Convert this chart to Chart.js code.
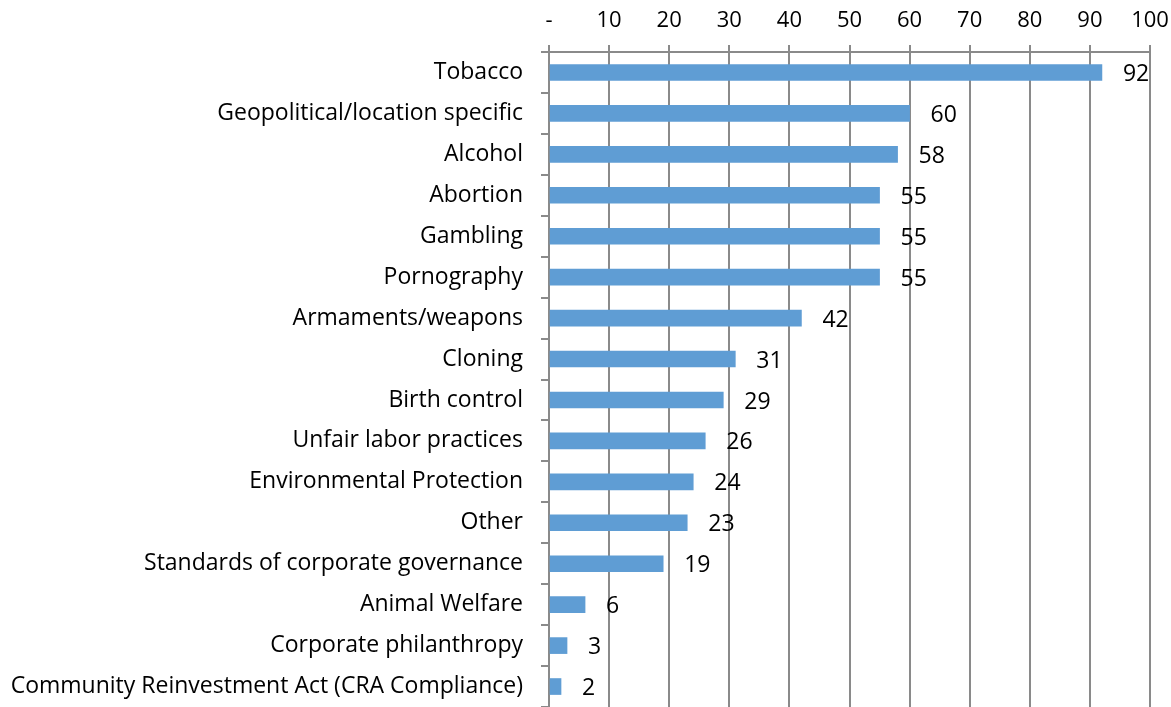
<!DOCTYPE html>
<html>
<head>
<meta charset="utf-8">
<script src="https://cdn.jsdelivr.net/npm/chart.js@4"></script>
<style>
  html, body { margin: 0; padding: 0; background: #fff; }
  #wrap { width: 1171px; height: 707px; position: relative; }
</style>
</head>
<body>
<div id="wrap"><canvas id="barChart"></canvas></div>
<script>
/* --- DATA --- */
const CATEGORIES = [
  'Tobacco',
  'Geopolitical/location specific',
  'Alcohol',
  'Abortion',
  'Gambling',
  'Pornography',
  'Armaments/weapons',
  'Cloning',
  'Birth control',
  'Unfair labor practices',
  'Environmental Protection',
  'Other',
  'Standards of corporate governance',
  'Animal Welfare',
  'Corporate philanthropy',
  'Community Reinvestment Act (CRA Compliance)'
];
const VALUES = [92, 60, 58, 55, 55, 55, 42, 31, 29, 26, 24, 23, 19, 6, 3, 2];
const X_MIN = 0;
const X_MAX = 100;
const X_STEP = 10;
const ZERO_LABEL = '-';

/* --- STYLE --- */
const FONT = '"Open Sans", sans-serif';
const GRID_COLOR = '#8a8a8a';
const BAR_COLOR = '#5f9dd4';

// value labels to the right of each bar
const valueLabels = {
  id: 'valueLabels',
  afterDatasetsDraw(chart) {
    const ctx = chart.ctx;
    const meta = chart.getDatasetMeta(0);
    ctx.save();
    ctx.font = '23px ' + FONT;
    ctx.fillStyle = '#000';
    ctx.textAlign = 'left';
    ctx.textBaseline = 'middle';
    meta.data.forEach((bar, i) => {
      ctx.fillText(String(VALUES[i]), bar.x + 21, bar.y + 2);
    });
    ctx.restore();
  }
};

const ctx = document.getElementById('barChart').getContext('2d');
new Chart(ctx, {
  type: 'bar',
  data: {
    labels: CATEGORIES,
    datasets: [{
      data: VALUES,
      backgroundColor: BAR_COLOR,
      borderWidth: 0,
      barThickness: 16
    }]
  },
  options: {
    indexAxis: 'y',
    responsive: true,
    maintainAspectRatio: false,
    animation: false,
    layout: { padding: { left: 0, right: 21, top: 0, bottom: 0 } },
    plugins: {
      legend: { display: false },
      tooltip: { enabled: false }
    },
    scales: {
      x: {
        position: 'top',
        min: X_MIN,
        max: X_MAX,
        ticks: {
          stepSize: X_STEP,
          color: '#000',
          font: { family: FONT, size: 22 },
          padding: 11,
          callback: (v) => v === 0 ? ZERO_LABEL : v
        },
        grid: { color: GRID_COLOR, lineWidth: 2, tickLength: 7 },
        border: { color: GRID_COLOR, width: 2 },
        afterFit: (scale) => {
          scale.height = 52;
          scale.paddingLeft = 0;
          scale.paddingRight = 0;
        }
      },
      y: {
        ticks: {
          color: '#000',
          font: { family: FONT, size: 23 },
          padding: 18,
          autoSkip: false
        },
        grid: { drawOnChartArea: false, color: GRID_COLOR, lineWidth: 2, tickLength: 8, offset: true },
        border: { color: GRID_COLOR, width: 2 },
        afterFit: (scale) => {
          scale.width = 549;
          scale.paddingTop = 0;
          scale.paddingBottom = 0;
        }
      }
    }
  },
  plugins: [valueLabels]
});
</script>
</body>
</html>
